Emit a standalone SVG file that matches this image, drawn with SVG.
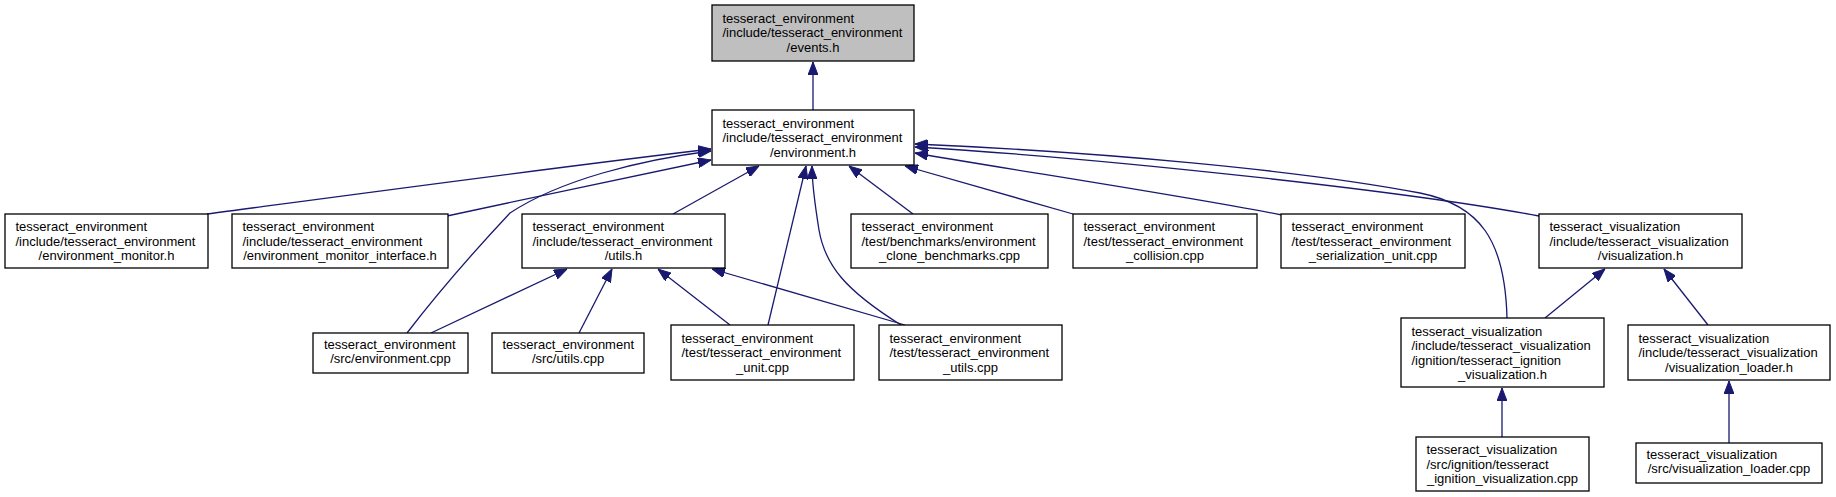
<svg xmlns="http://www.w3.org/2000/svg" width="1836" height="497" viewBox="0 0 1836 497">
<style>
.bg{fill:#ffffff}
rect.n{fill:#ffffff;stroke:#000000;stroke-width:1.3}
rect.cur{fill:#bfbfbf;stroke:#000000;stroke-width:1.3}
text{font-family:"Liberation Sans",Arial,Helvetica,sans-serif;font-size:13px;fill:#000000}
text.c{text-anchor:middle}
#edges path{fill:none;stroke:#191970;stroke-width:1.3;marker-end:url(#arr)}
</style>
<defs>
<marker id="arr" viewBox="0 0 13 10" refX="13" refY="5" markerWidth="13" markerHeight="10" markerUnits="userSpaceOnUse" orient="auto">
<path d="M0,0 L13,5 L0,10 Z" fill="#191970" stroke="#191970" stroke-width="1"/>
</marker>
</defs>
<rect class="bg" x="0" y="0" width="1836" height="497"/>

<g id="edges">
<path d="M813,110 L813,62"/>
<path d="M207,214 C350,195 550,168 711,149"/>
<path d="M447,216 C530,198 630,177 711,160"/>
<path d="M407,333 C440,290 480,245 510,213 C560,180 640,160 711,151"/>
<path d="M673,214 L759,166"/>
<path d="M768,325 L806,166"/>
<path d="M901,325 C845,290 825,265 819,230 C815,205 812,185 812,166"/>
<path d="M913,214 L849,166"/>
<path d="M1073,214 L905,166"/>
<path d="M1282,215 C1180,195 1000,168 915,153"/>
<path d="M1539,216 C1400,190 1100,158 915,147"/>
<path d="M1507,318 C1505,240 1480,205 1420,193 C1300,170 1100,152 915,144"/>
<path d="M431,333 L567,269"/>
<path d="M579,333 L612,269"/>
<path d="M730,325 L658,269"/>
<path d="M905,325 L712,269"/>
<path d="M1545,318 L1605,269"/>
<path d="M1708,325 L1664,269"/>
<path d="M1502,437 L1502,388"/>
<path d="M1729,443 L1729,381"/>
</g>

<g id="node_events">
<rect class="cur" x="712" y="5" width="202" height="56"/>
<text x="722.5" y="22.8">tesseract_environment</text>
<text x="722.5" y="37.3">/include/tesseract_environment</text>
<text class="c" x="813" y="51.8">/events.h</text>
</g>

<g id="node_environment">
<rect class="n" x="712" y="110" width="202" height="55"/>
<text x="722.5" y="127.8">tesseract_environment</text>
<text x="722.5" y="142.3">/include/tesseract_environment</text>
<text class="c" x="813" y="156.8">/environment.h</text>
</g>

<g id="node_env_monitor">
<rect class="n" x="5" y="214" width="203" height="54"/>
<text x="15.5" y="231.3">tesseract_environment</text>
<text x="15.5" y="245.8">/include/tesseract_environment</text>
<text class="c" x="106.5" y="260.3">/environment_monitor.h</text>
</g>

<g id="node_env_monitor_interface">
<rect class="n" x="232" y="214" width="216" height="54"/>
<text x="242.5" y="231.3">tesseract_environment</text>
<text x="242.5" y="245.8">/include/tesseract_environment</text>
<text class="c" x="340" y="260.3">/environment_monitor_interface.h</text>
</g>

<g id="node_utils_h">
<rect class="n" x="522" y="214" width="203" height="54"/>
<text x="532.5" y="231.3">tesseract_environment</text>
<text x="532.5" y="245.8">/include/tesseract_environment</text>
<text class="c" x="623.5" y="260.3">/utils.h</text>
</g>

<g id="node_clone_bench">
<rect class="n" x="851" y="214" width="197" height="54"/>
<text x="861.5" y="231.3">tesseract_environment</text>
<text x="861.5" y="245.8">/test/benchmarks/environment</text>
<text class="c" x="949.5" y="260.3">_clone_benchmarks.cpp</text>
</g>

<g id="node_collision">
<rect class="n" x="1073" y="214" width="184" height="54"/>
<text x="1083.5" y="231.3">tesseract_environment</text>
<text x="1083.5" y="245.8">/test/tesseract_environment</text>
<text class="c" x="1165" y="260.3">_collision.cpp</text>
</g>

<g id="node_serialization">
<rect class="n" x="1281" y="214" width="184" height="54"/>
<text x="1291.5" y="231.3">tesseract_environment</text>
<text x="1291.5" y="245.8">/test/tesseract_environment</text>
<text class="c" x="1373" y="260.3">_serialization_unit.cpp</text>
</g>

<g id="node_visualization_h">
<rect class="n" x="1539" y="214" width="203" height="54"/>
<text x="1549.5" y="231.3">tesseract_visualization</text>
<text x="1549.5" y="245.8">/include/tesseract_visualization</text>
<text class="c" x="1640.5" y="260.3">/visualization.h</text>
</g>

<g id="node_src_environment">
<rect class="n" x="313" y="333" width="155" height="40"/>
<text x="324" y="348.5">tesseract_environment</text>
<text class="c" x="390.5" y="363">/src/environment.cpp</text>
</g>

<g id="node_src_utils">
<rect class="n" x="492" y="333" width="152" height="40"/>
<text x="502.5" y="348.5">tesseract_environment</text>
<text class="c" x="568" y="363">/src/utils.cpp</text>
</g>

<g id="node_test_unit">
<rect class="n" x="671" y="325" width="183" height="55"/>
<text x="681.5" y="342.8">tesseract_environment</text>
<text x="681.5" y="357.3">/test/tesseract_environment</text>
<text class="c" x="762.5" y="371.8">_unit.cpp</text>
</g>

<g id="node_test_utils">
<rect class="n" x="879" y="325" width="183" height="55"/>
<text x="889.5" y="342.8">tesseract_environment</text>
<text x="889.5" y="357.3">/test/tesseract_environment</text>
<text class="c" x="970.5" y="371.8">_utils.cpp</text>
</g>

<g id="node_ignition_h">
<rect class="n" x="1401" y="318" width="203" height="69"/>
<text x="1411.5" y="335.6">tesseract_visualization</text>
<text x="1411.5" y="350.1">/include/tesseract_visualization</text>
<text x="1411.5" y="364.6">/ignition/tesseract_ignition</text>
<text class="c" x="1502.5" y="379.1">_visualization.h</text>
</g>

<g id="node_loader_h">
<rect class="n" x="1628" y="325" width="202" height="55"/>
<text x="1638.5" y="342.8">tesseract_visualization</text>
<text x="1638.5" y="357.3">/include/tesseract_visualization</text>
<text class="c" x="1729" y="371.8">/visualization_loader.h</text>
</g>

<g id="node_ignition_cpp">
<rect class="n" x="1416" y="437" width="173" height="54"/>
<text x="1426.5" y="454.3">tesseract_visualization</text>
<text x="1426.5" y="468.8">/src/ignition/tesseract</text>
<text class="c" x="1502.5" y="483.3">_ignition_visualization.cpp</text>
</g>

<g id="node_loader_cpp">
<rect class="n" x="1636" y="443" width="186" height="40"/>
<text x="1646.5" y="458.5">tesseract_visualization</text>
<text class="c" x="1729" y="473">/src/visualization_loader.cpp</text>
</g>
</svg>
